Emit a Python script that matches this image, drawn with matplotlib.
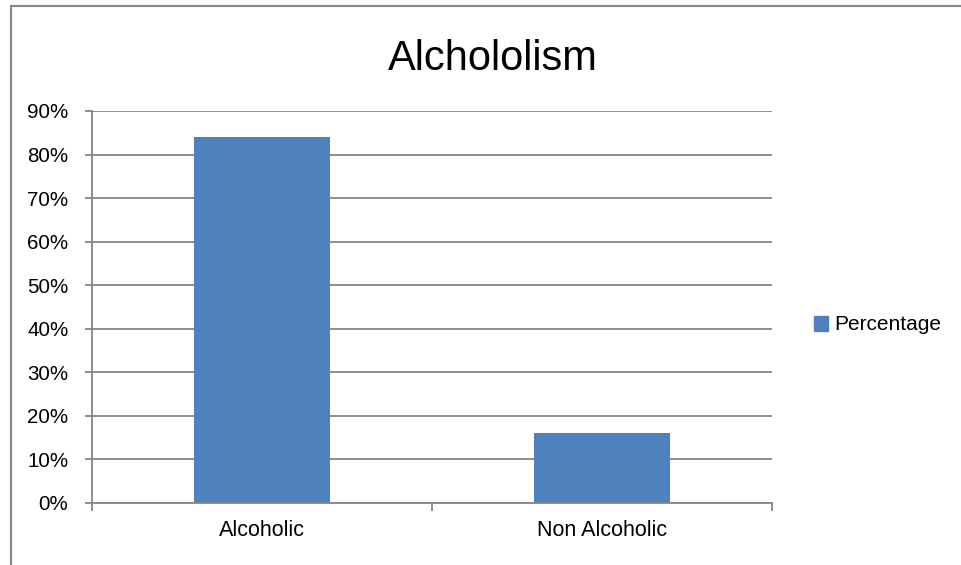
import matplotlib.pyplot as plt
from matplotlib.lines import Line2D
from matplotlib.patches import Patch
from matplotlib.ticker import MultipleLocator, FuncFormatter

categories = ['Alcoholic', 'Non Alcoholic']
percentage = [84, 16]
series_name = 'Percentage'
title = 'Alchololism'

W, H = 961, 565
bar_color = '#4F81BD'
grid_color = '#868686'

plt.rcParams['font.family'] = ['Liberation Sans', 'DejaVu Sans']

fig = plt.figure(figsize=(W / 100, H / 100), dpi=100)
ax = fig.add_axes([92 / W, 1 - 503 / H, (772 - 92) / W, (503 - 111) / H])

x = range(len(categories))
ax.bar(x, percentage, width=0.4, color=bar_color, zorder=3)

ax.set_xlim(-0.5, len(categories) - 0.5)
ax.set_ylim(0, 90)
ax.yaxis.set_major_locator(MultipleLocator(10))
ax.yaxis.set_major_formatter(FuncFormatter(lambda v, p: f'{v:.0f}%'))
ax.grid(axis='y', color=grid_color, linewidth=1.3, zorder=0)

# category labels in the middle, tick marks on the boundaries
ax.set_xticks(list(x))
ax.set_xticklabels(categories, fontsize=15.5)
ax.tick_params(axis='x', length=0, pad=12)
ax.set_xticks([i - 0.5 for i in range(len(categories) + 1)], minor=True)
ax.tick_params(axis='x', which='minor', length=5.5, width=1.3, color=grid_color)
ax.tick_params(axis='y', length=5, width=1.3, color=grid_color, labelsize=14.8, pad=12)

for side in ['top', 'right']:
    ax.spines[side].set_visible(False)
for side in ['left', 'bottom']:
    ax.spines[side].set_color(grid_color)
    ax.spines[side].set_linewidth(1.3)
    ax.spines[side].set_zorder(4)

fig.text(493 / W, 1 - 70 / H, title, fontsize=30, ha='center', va='baseline')

fig.legend(handles=[Patch(color=bar_color, label=series_name)],
           loc='center left', bbox_to_anchor=(795 / W, 1 - 325 / H),
           frameon=False, fontsize=15, handlelength=0.7, handleheight=0.7,
           handletextpad=0.3)

# chart frame
fig.add_artist(Line2D([10.5 / W, 10.5 / W], [0, 1 - 6 / H], color=grid_color, linewidth=1.5))
fig.add_artist(Line2D([10.5 / W, 1], [1 - 6 / H, 1 - 6 / H], color=grid_color, linewidth=1.5))

fig.savefig('out.png', dpi=100)
